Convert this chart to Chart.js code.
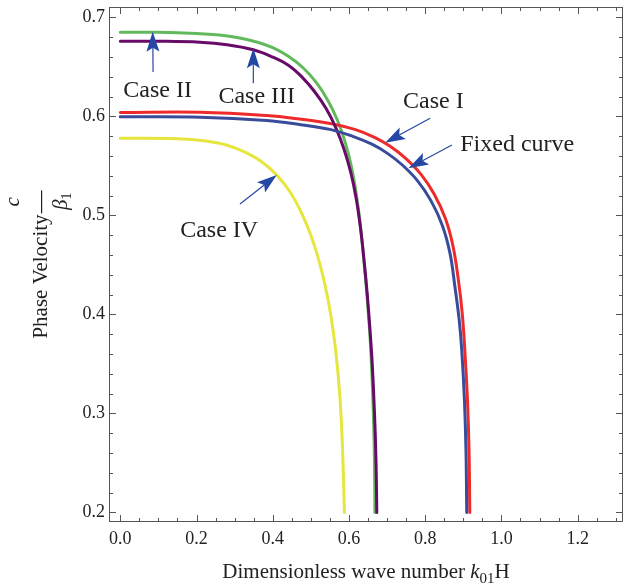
<!DOCTYPE html>
<html>
<head>
<meta charset="utf-8">
<script src="https://cdn.jsdelivr.net/npm/chart.js@4.4.1/dist/chart.umd.min.js"></script>
<style>
  html, body { margin: 0; padding: 0; background: #fff; }
  #wrap { width: 624px; height: 588px; }
</style>
</head>
<body>
<div id="wrap"><canvas id="dispersionChart"></canvas></div>
<script>
// phase velocity c/beta1 against dimensionless wave number k01*H
const fixedX = [0, 0.209, 0.384, 0.470, 0.550, 0.610, 0.660, 0.700, 0.740, 0.780, 0.815, 0.845, 0.865, 0.878, 0.889, 0.896, 0.903, 0.907, 0.909];
const fixedY = [0.5997, 0.5993, 0.596, 0.592, 0.587, 0.580, 0.572, 0.563, 0.551, 0.535, 0.515, 0.490, 0.462, 0.428, 0.395, 0.3636, 0.313, 0.2626, 0.2];

const case1X = [0, 0.209, 0.384, 0.470, 0.550, 0.615, 0.667, 0.708, 0.748, 0.788, 0.823, 0.853, 0.873, 0.887, 0.897, 0.904, 0.911, 0.915, 0.917];
const case1Y = [0.604, 0.6043, 0.601, 0.5975, 0.593, 0.587, 0.579, 0.570, 0.558, 0.542, 0.522, 0.497, 0.469, 0.435, 0.402, 0.3636, 0.313, 0.2626, 0.2];

const case2X = [0, 0.1, 0.2, 0.26, 0.31, 0.36, 0.40, 0.44, 0.48, 0.515, 0.545, 0.57, 0.59, 0.606, 0.619, 0.630, 0.639, 0.647, 0.654, 0.659, 0.664, 0.667, 0.668];
const case2Y = [0.685, 0.685, 0.6838, 0.6822, 0.6795, 0.675, 0.6695, 0.661, 0.649, 0.634, 0.616, 0.596, 0.574, 0.550, 0.522, 0.490, 0.455, 0.42, 0.385, 0.35, 0.30, 0.25, 0.2];

const case3X = [0, 0.1, 0.209, 0.28, 0.349, 0.40, 0.44, 0.475, 0.51, 0.54, 0.565, 0.587, 0.605, 0.619, 0.630, 0.640, 0.648, 0.655, 0.661, 0.667, 0.671, 0.673];
const case3Y = [0.676, 0.676, 0.675, 0.6725, 0.6674, 0.660, 0.652, 0.6405, 0.625, 0.608, 0.589, 0.567, 0.543, 0.517, 0.488, 0.453, 0.42, 0.385, 0.35, 0.30, 0.25, 0.2];

const case4X = [0, 0.15, 0.22, 0.28, 0.33, 0.37, 0.41, 0.445, 0.475, 0.50, 0.52, 0.537, 0.552, 0.565, 0.576, 0.583, 0.588];
const case4Y = [0.578, 0.5775, 0.5755, 0.571, 0.5635, 0.5545, 0.541, 0.524, 0.503, 0.480, 0.456, 0.430, 0.400, 0.364, 0.318, 0.265, 0.2];

const xMajorTicks = [0, 0.2, 0.4, 0.6, 0.8, 1.0, 1.2];
const yMajorTicks = [0.2, 0.3, 0.4, 0.5, 0.6, 0.7];
const xMinorStep = 0.05;
const yMinorStep = 0.02;

// curve labels with their arrows, in data units
const callouts = [
  { text: 'Case I',      at: [0.742, 0.6086], align: 'left',   tail: [0.813, 0.5982], tip: [0.695, 0.5735] },
  { text: 'Fixed curve', at: [0.892, 0.5655], align: 'left',   tail: [0.870, 0.5712], tip: [0.756, 0.5477] },
  { text: 'Case II',     at: [0.098, 0.620],  align: 'center', tail: [0.086, 0.6449], tip: [0.085, 0.6857] },
  { text: 'Case III',    at: [0.358, 0.6133], align: 'center', tail: [0.349, 0.6335], tip: [0.349, 0.6689] },
  { text: 'Case IV',     at: [0.157, 0.4786], align: 'left',   tail: [0.314, 0.5116], tip: [0.4105, 0.5409] }
];

const SERIF = '"Liberation Serif", "Times New Roman", serif';
const TEXT = '#222';
const ARROW = '#2448a3';

function pts(xs, ys) {
  return xs.map((x, i) => ({ x: x, y: ys[i] }));
}

function curve(label, xs, ys, color) {
  return {
    label: label,
    data: pts(xs, ys),
    showLine: true,
    borderColor: color,
    backgroundColor: color,
    borderWidth: 3,
    pointRadius: 0,
    tension: 0.4,
    borderCapStyle: 'round',
    borderJoinStyle: 'round'
  };
}

function drawArrow(ctx, x0, y0, x1, y1) {
  const dx = x1 - x0, dy = y1 - y0;
  const len = Math.hypot(dx, dy);
  const ux = dx / len, uy = dy / len;
  const hl = 20, hw = 6.5;
  const bx = x1 - ux * hl, by = y1 - uy * hl;
  ctx.beginPath();
  ctx.moveTo(x0, y0);
  ctx.lineTo(bx + ux * 4, by + uy * 4);
  ctx.lineWidth = 1.2;
  ctx.stroke();
  ctx.beginPath();
  ctx.moveTo(x1, y1);
  ctx.lineTo(bx - uy * hw, by + ux * hw);
  ctx.lineTo(bx + ux * 4, by + uy * 4);
  ctx.lineTo(bx + uy * hw, by - ux * hw);
  ctx.closePath();
  ctx.fill();
}

// keep the plot box fixed: no extra room for the end tick labels
function noEdgePadding(scale) {
  scale.paddingTop = 0;
  scale.paddingBottom = 0;
  scale.paddingLeft = 0;
  scale.paddingRight = 0;
}

const decorations = {
  id: 'decorations',
  afterDraw(chart) {
    const { ctx, chartArea: a, scales: { x, y } } = chart;
    ctx.save();

    // frame with inward ticks on all sides
    ctx.strokeStyle = '#555';
    ctx.lineWidth = 1;
    ctx.strokeRect(a.left + 0.5, a.top + 0.5, a.right - a.left - 1, a.bottom - a.top - 1);
    ctx.beginPath();
    for (let i = 0; i * xMinorStep <= x.max + 1e-9; i++) {
      const v = i * xMinorStep;
      const major = xMajorTicks.some(t => Math.abs(t - v) < 1e-6);
      const len = major ? 7 : 4;
      const px = Math.round(x.getPixelForValue(v)) + 0.5;
      ctx.moveTo(px, a.bottom); ctx.lineTo(px, a.bottom - len);
      ctx.moveTo(px, a.top); ctx.lineTo(px, a.top + len);
    }
    for (let i = 0; 0.2 + i * yMinorStep <= y.max + 1e-9; i++) {
      const v = 0.2 + i * yMinorStep;
      const major = yMajorTicks.some(t => Math.abs(t - v) < 1e-6);
      const len = major ? 7 : 4;
      const py = Math.round(y.getPixelForValue(v)) + 0.5;
      ctx.moveTo(a.left, py); ctx.lineTo(a.left + len, py);
      ctx.moveTo(a.right, py); ctx.lineTo(a.right - len, py);
    }
    ctx.stroke();

    // callouts
    ctx.fillStyle = ARROW;
    ctx.strokeStyle = ARROW;
    callouts.forEach(c => {
      drawArrow(ctx, x.getPixelForValue(c.tail[0]), y.getPixelForValue(c.tail[1]),
                x.getPixelForValue(c.tip[0]), y.getPixelForValue(c.tip[1]));
    });
    ctx.fillStyle = TEXT;
    ctx.font = '24px ' + SERIF;
    ctx.textBaseline = 'alphabetic';
    callouts.forEach(c => {
      ctx.textAlign = c.align;
      ctx.fillText(c.text, x.getPixelForValue(c.at[0]), y.getPixelForValue(c.at[1]));
    });

    // x axis title: Dimensionless wave number k01 H
    const regular = '21px ' + SERIF;
    const italic = 'italic 21px ' + SERIF;
    const sub = '15px ' + SERIF;
    const parts = [
      { s: 'Dimensionless wave number ', f: regular, dy: 0 },
      { s: 'k', f: italic, dy: 0 },
      { s: '01', f: sub, dy: 5 },
      { s: 'H', f: regular, dy: 0 }
    ];
    ctx.textAlign = 'left';
    let total = 0;
    parts.forEach(p => { ctx.font = p.f; p.w = ctx.measureText(p.s).width; total += p.w; });
    let cx = (a.left + a.right) / 2 - total / 2;
    parts.forEach(p => {
      ctx.font = p.f;
      ctx.fillText(p.s, cx, 578 + p.dy);
      cx += p.w;
    });

    // y axis title: Phase Velocity c / beta1, read bottom to top
    ctx.translate(47, 0);
    ctx.rotate(-Math.PI / 2);
    ctx.font = regular;
    const w1 = ctx.measureText('Phase Velocity').width;
    const barW = 23;
    const full = w1 + 1 + barW;
    const mid = (a.top + a.bottom) / 2;
    const u0 = -(mid + full / 2);
    ctx.fillText('Phase Velocity', u0, 0);
    const ub = u0 + w1 + 1;
    ctx.fillRect(ub, -6, barW, 1.2);
    ctx.textAlign = 'center';
    ctx.font = italic;
    ctx.fillText('c', ub + barW / 2, -28);
    const bw = ctx.measureText('\u03b2').width;
    ctx.textAlign = 'left';
    ctx.fillText('\u03b2', ub + barW / 2 - bw / 2 - 3, 20);
    ctx.font = sub;
    ctx.fillText('1', ub + barW / 2 + bw / 2 - 3, 24);

    ctx.restore();
  }
};

new Chart(document.getElementById('dispersionChart'), {
  type: 'scatter',
  data: {
    datasets: [
      curve('Fixed curve', fixedX, fixedY, '#384c9b'),
      curve('Case III', case3X, case3Y, '#680b68'),
      curve('Case I', case1X, case1Y, '#ef2a2a'),
      curve('Case II', case2X, case2Y, '#62b95c'),
      curve('Case IV', case4X, case4Y, '#e6e63e')
    ]
  },
  options: {
    responsive: true,
    maintainAspectRatio: false,
    animation: false,
    layout: { padding: { top: 7, right: 1, left: 0, bottom: 0 } },
    plugins: {
      legend: { display: false },
      tooltip: { enabled: false }
    },
    scales: {
      x: {
        type: 'linear',
        min: -0.0297,
        max: 1.319,
        grid: { display: false, drawTicks: false },
        border: { display: false },
        afterBuildTicks: scale => { scale.ticks = xMajorTicks.map(v => ({ value: v })); },
        afterFit: scale => { scale.height = 66; noEdgePadding(scale); },
        ticks: {
          padding: 6,
          color: TEXT,
          font: { family: SERIF, size: 18 },
          maxRotation: 0,
          callback: v => Number(v).toFixed(1)
        }
      },
      y: {
        type: 'linear',
        min: 0.1904,
        max: 0.7106,
        grid: { display: false, drawTicks: false },
        border: { display: false },
        afterBuildTicks: scale => { scale.ticks = yMajorTicks.map(v => ({ value: v })); },
        afterFit: scale => { scale.width = 109; noEdgePadding(scale); },
        ticks: {
          padding: 4,
          color: TEXT,
          font: { family: SERIF, size: 18 },
          callback: v => Number(v).toFixed(1)
        }
      }
    }
  },
  plugins: [decorations]
});
</script>
</body>
</html>
